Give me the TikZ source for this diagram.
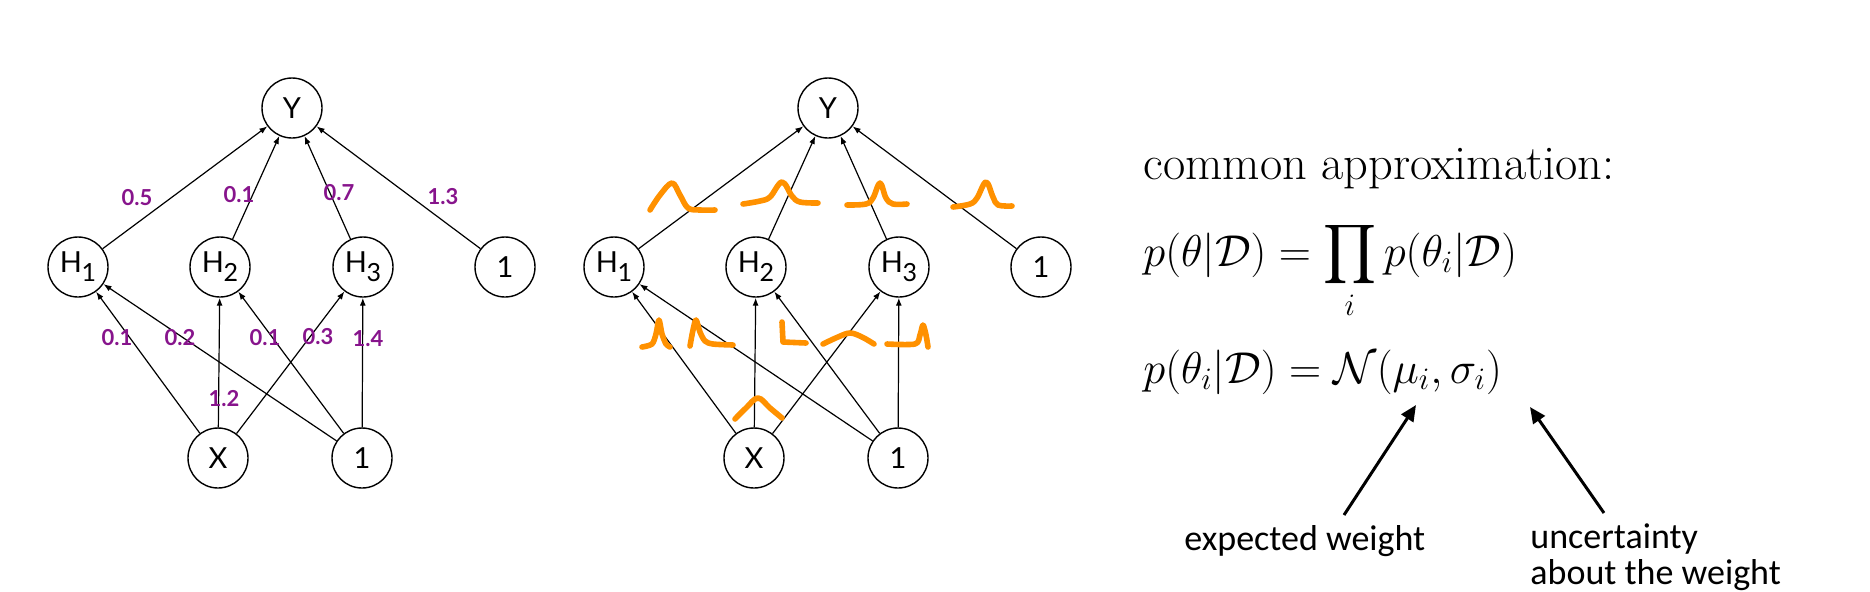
\RequirePackage{fix-cm}
\documentclass[tikz,border=0pt]{standalone}
\usepackage{amsmath}
\usepackage{fontspec}
\usetikzlibrary{arrows.meta}
\newfontfamily\gill{Lato}
\newfontfamily\calib{Carlito}
\definecolor{wpurple}{RGB}{135,20,140}
\definecolor{gorange}{RGB}{255,145,0}
\newcommand{\hsub}[1]{H\kern-0.3pt\raisebox{-4.5pt}{\fontsize{12.5}{12}\selectfont #1}}
\tikzset{
  neuron/.style={circle,draw,line width=0.7pt,minimum size=30pt,inner sep=0pt,
                 font=\gill\fontsize{14.5}{14}\selectfont},
  wlabel/.style={font=\gill\bfseries\fontsize{11}{11}\selectfont,text=wpurple,inner sep=0pt},
  conn/.style={line width=0.6pt,-{Latex[length=4pt,width=3pt]}},
  gauss/.style={gorange,line width=2.8pt,line cap=round,line join=round},
  bigarrow/.style={line width=1.5pt,-{Triangle[length=8pt,width=7pt]}},
  caption/.style={font=\calib\fontsize{18}{23}\selectfont,inner sep=0pt,anchor=base west},
  mathtext/.style={font=\fontsize{22.3}{26}\selectfont,inner sep=0pt,anchor=base west},
  headtext/.style={font=\fontsize{24.2}{28}\selectfont,inner sep=0pt,anchor=base west},
}
\newcommand{\net}[1]{%
  \node[neuron] (#1Y) at (292,108) {Y};
  \node[neuron] (#1H1) at (78,267) {\hsub{1}};
  \node[neuron] (#1H2) at (220,267) {\hsub{2}};
  \node[neuron] (#1H3) at (363,267) {\hsub{3}};
  \node[neuron] (#1B1) at (505,267) {1};
  \node[neuron] (#1X) at (218,458) {X};
  \node[neuron] (#1B0) at (362,458) {1};
  \foreach \s in {H1,H2,H3,B1} \draw[conn] (#1\s) -- (#1Y);
  \foreach \s in {X,B0} {\foreach \t in {H1,H2,H3} {\draw[conn] (#1\s) -- (#1\t);}}
}
\begin{document}
\begin{tikzpicture}[x=0.5pt,y=-0.5pt]
\path[use as bounding box] (0,0) rectangle (1870,591);
% left network
\begin{scope}
\net{L}
\end{scope}
% right network
\begin{scope}[xshift=268pt]
\net{R}
\end{scope}
% weights
\node[wlabel] (w1) at (137,198) {0.5};
\node[wlabel] (w2) at (239,195) {0.1};
\node[wlabel] (w3) at (339,193) {0.7};
\node[wlabel] (w4) at (443,197) {1.3};
\node[wlabel] (w5) at (117,338) {0.1};
\node[wlabel] (w6) at (180,338) {0.2};
\node[wlabel] (w7) at (265,338) {0.1};
\node[wlabel] (w8) at (318,337) {0.3};
\node[wlabel] (w9) at (368,339) {1.4};
\node[wlabel] (w10) at (224,399) {1.2};
% gaussians
\draw[gauss] plot[smooth,tension=0.6] coordinates {(650,210) (660,195) (672,183) (680,195) (688,208) (700,210) (715,210)};
\draw[gauss] plot[smooth,tension=0.6] coordinates {(743,204) (760,201) (770,197) (782,182) (792,196) (800,202) (818,203)};
\draw[gauss] plot[smooth,tension=0.6] coordinates {(847,205) (866,204) (873,198) (880,183) (886,198) (893,204) (907,204)};
\draw[gauss] plot[smooth,tension=0.6] coordinates {(953,207) (970,204) (977,198) (986,182) (993,197) (998,205) (1012,206)};
\draw[gauss] plot[smooth,tension=0.5] coordinates {(642,347) (652,344) (656,334) (659,320) (662,334) (666,344) (670,347)};
\draw[gauss] plot[smooth,tension=0.5] coordinates {(690,346) (693,330) (696,320) (700,332) (705,341) (713,344) (733,345)};
\draw[gauss] (782,322) -- (783,342) -- (806,343);
\draw[gauss] plot[smooth,tension=0.6] coordinates {(823,344) (838,337) (850,333) (862,337) (874,344)};
\draw[gauss] plot[smooth,tension=0.5] coordinates {(887,344) (915,344) (920,335) (923,325) (926,335) (928,347)};
\draw[gauss] plot[smooth,tension=0.6] coordinates {(735,419) (746,408) (758,398) (770,408) (782,418)};
% right text
\node[headtext] (ca) at (1143,179) {common approximation:};
\node[mathtext] (eq1) at (1143,266) {$\displaystyle p(\theta|\mathcal{D})=\prod_i p(\theta_i|\mathcal{D})$};
\node[mathtext] (eq2) at (1143,383) {$p(\theta_i|\mathcal{D})=\mathcal{N}(\mu_i,\sigma_i)$};
\node[caption] (ew) at (1184,550) {expected weight};
\node[caption] (un1) at (1530,548) {uncertainty};
\node[caption] (un2) at (1530,584) {about the weight};
\coordinate (t1) at (1344,515);
\coordinate (mu) at (1416,405);
\coordinate (t2) at (1604,513);
\coordinate (sig) at (1530,407);
\draw[bigarrow] (t1) -- (mu);
\draw[bigarrow] (t2) -- (sig);
\end{tikzpicture}
\end{document}
